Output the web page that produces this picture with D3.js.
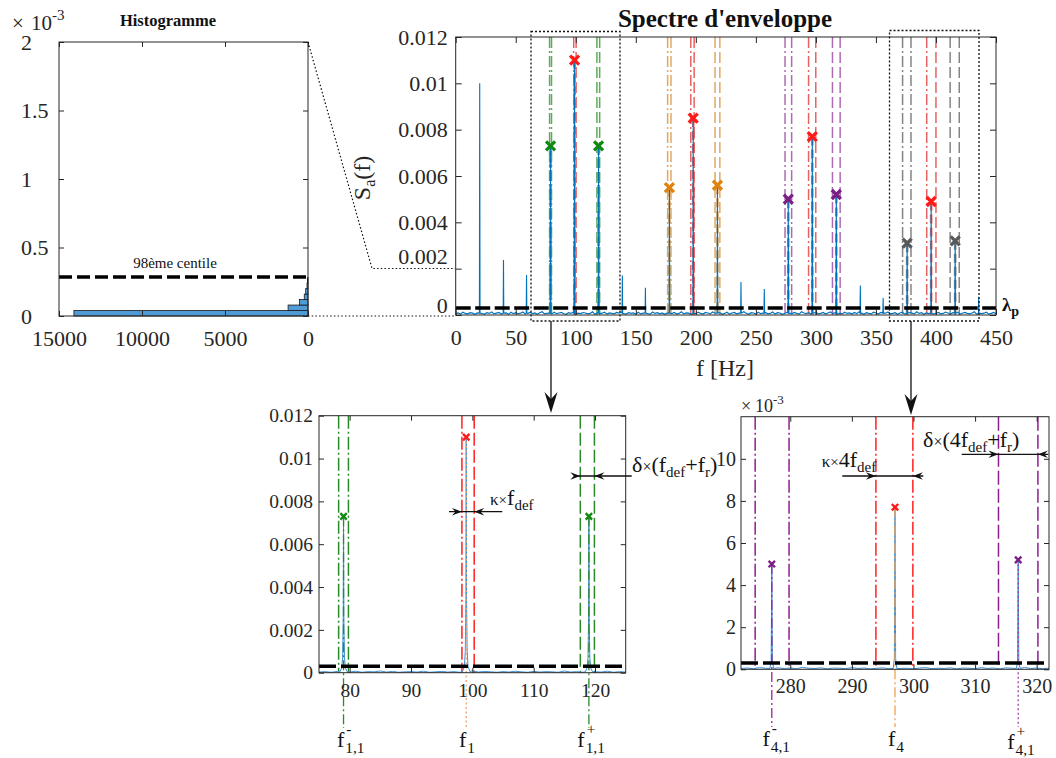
<!DOCTYPE html>
<html><head><meta charset="utf-8">
<script src="https://cdn.jsdelivr.net/npm/d3@7"></script>
<style>body{margin:0;background:#fff} svg text{font-family:"Liberation Serif","Times New Roman",serif !important;}</style>
</head><body><svg id="c" width="1056" height="758"></svg>
<script>
// ---------------- DATA ----------------
const histEdges = [0, 0.04, 0.08, 0.12, 0.16, 0.20, 0.24, 0.28];   // ×1e-3
const histCounts = [14100, 1200, 520, 225, 140, 60, 25];
const histYTicks = [0, 0.5, 1, 1.5, 2];
const histXTicks = [15000, 10000, 5000, 0];
const centile98 = 0.285;   // ×1e-3
const lambdaP = 0.0003;

const mainXTicks = [0, 50, 100, 150, 200, 250, 300, 350, 400, 450];
const ampTicks = [0, 0.002, 0.004, 0.006, 0.008, 0.010, 0.012];
const zoomLeftXTicks = [80, 90, 100, 110, 120];
const zoomRightXTicks = [280, 290, 300, 310, 320];
const zoomRightYTicks = [0, 0.002, 0.004, 0.006, 0.008, 0.010];

const peakFreqs = [20, 39.8, 59, 79, 99, 119, 138.8, 158, 178, 197.8, 218, 237.6, 257, 277, 297, 317, 337, 356, 376, 396, 416, 435.6];
const peakAmps  = [0.0100, 0.00237, 0.00173, 0.0073, 0.0110, 0.0073, 0.0017, 0.00118, 0.0055, 0.0085, 0.0056, 0.00142, 0.00112, 0.0050, 0.0077, 0.0052, 0.00127, 0.00073, 0.0031, 0.0049, 0.0032, 0.00079];

const markFreqs  = [79, 99, 119, 178, 197.8, 218, 277, 297, 317, 376, 396, 416];
const markAmps   = [0.0073, 0.0110, 0.0073, 0.0055, 0.0085, 0.0056, 0.0050, 0.0077, 0.0052, 0.0031, 0.0049, 0.0032];
const markGroups = ["g", "r", "g", "o", "r", "o", "p", "r", "p", "k", "r", "k"];
const markRoles  = ["-", "0", "+", "-", "0", "+", "-", "0", "+", "-", "0", "+"];
const winLo = [78.2, 98.3, 117.6, 176.5, 195.8, 216.0, 274.3, 293.9, 313.8, 372.2, 392.3, 411.8];
const winHi = [79.8, 100.3, 119.9, 179.3, 198.6, 220.0, 279.8, 299.9, 320.2, 379.2, 400.0, 419.4];

// baseline noise of the envelope spectrum (×1e-5), 0..450 Hz
const mainNoise = [6,9,4,12,7,5,10,8,3,9,11,6,4,10,7,13,5,8,11,4,7,9,3,12,6,10,5,8,13,4,7,11,6,9,3,10,14,5,7,8,4,12,6,9,11,5,3,10,7,13,4,8,6,11,9,5,7,14,3,10,6,8,12,4,9,7,5,11,8,13,6,4,10,7,9,3,12,5,8,11,6,4,13,7,10,5,9,3,8,12,6,11,4,7,14,5,9,8,3,10,6,12,7,4,11,9,5,13,8,6,10,3,7,12,4,9,11,5,8,6,14,7,3,10,9,4,12,6,8,11,5,7,13,4,10,9,3,6,12,8,5,11,7,4,14,9,6,10,3,8,12,5,7,11,4,9,13,6,10,3,8,5,12,7,9,4,11,6,14,8,3,10,7,5,12,9,4,11,6,8,13,5,7,10,3,9,12,4,6,11,8,5,14,7,10,3,9,6,12,4,8,11,5,7,13,9,3,10,6,12,4,8,11,7,5,9,14,3,10,6,8,12,4,7,11,5];
// zoom panel noise (×1e-5)
const leftNoise  = [3,5,2,6,4,3,7,2,5,4,8,3,6,2,4,5,3,7,2,4,6,3,5,2,4,9,3,6,4,2,5,3,7,4,2,6,3,5,4,2,8,3,5,2,6,4,3,7,2,5,3];
const rightNoise = [4,6,3,8,5,2,7,4,6,3,9,5,4,7,2,6,5,3,8,4,6,2,5,7,3,9,4,5,2,6,8,3,5,4,7,2,6,5,3,8,4,6,2,7,5,3,9,4,6,3,5];
// zoomed peak profiles [f, amplitude]
const leftPeaks = [
  [78.4,0.00004],[78.7,0.00022],[78.85,0.0007],[78.95,0.0025],[79.0,0.0073],[79.05,0.0025],[79.15,0.0007],[79.3,0.00022],[79.6,0.00004],
  [98.4,0.00005],[98.7,0.0003],[98.85,0.0010],[98.95,0.0035],[99.0,0.0110],[99.05,0.0035],[99.15,0.0010],[99.3,0.0003],[99.6,0.00005],
  [118.4,0.00004],[118.7,0.00022],[118.85,0.0007],[118.95,0.0025],[119.0,0.0073],[119.05,0.0025],[119.15,0.0007],[119.3,0.00022],[119.6,0.00004]];
const rightPeaks = [
  [276.7,0.00004],[276.9,0.0004],[277.0,0.0050],[277.1,0.0004],[277.3,0.00004],
  [296.7,0.00004],[296.9,0.0005],[297.0,0.00775],[297.1,0.0005],[297.3,0.00004],
  [316.7,0.00004],[316.9,0.0004],[317.0,0.0052],[317.1,0.0004],[317.3,0.00004]];

// ---------------- SETUP ----------------
const svg = d3.select("#c");
svg.append("rect").attr("width",1056).attr("height",758).attr("fill","#fff");
const FONT = '"Liberation Serif", "Times New Roman", serif';
const AX = "#262626";
const BLUE = "#0072BD";
const groupLine = {g:"#3f9e3f", r:"#e04848", o:"#d89a48", p:"#9e52a6", k:"#6e6e6e"};
const groupMark = {g:"#118a11", r:"#ff1a1a", o:"#e0820e", p:"#7a1f84", k:"#585858"};
const DASH = "11,4", DASHDOT = "11,3,2,3";
const fmt = d => d === 0 ? "0" : String(+d.toFixed(4));

function drawAxes(g, x, y, o){
  const xl = d3.min(x.range()), xr = d3.max(x.range());
  const yb = y.range()[0], yt = y.range()[1];
  const b = g.append("g").attr("transform",`translate(0,${yb})`).call(d3.axisBottom(x).tickValues(o.xt).tickFormat(o.xf).tickSizeInner(-o.tl).tickSizeOuter(0).tickPadding(o.xpad));
  const t = g.append("g").attr("transform",`translate(0,${yt})`).call(d3.axisTop(x).tickValues(o.xt).tickFormat("").tickSizeInner(-o.tl).tickSizeOuter(0));
  const l = g.append("g").attr("transform",`translate(${xl},0)`).call(d3.axisLeft(y).tickValues(o.yt).tickFormat(o.yf).tickSizeInner(-o.tl).tickSizeOuter(0).tickPadding(o.ypad));
  const r = g.append("g").attr("transform",`translate(${xr},0)`).call(d3.axisRight(y).tickValues(o.yt).tickFormat("").tickSizeInner(-o.tl).tickSizeOuter(0));
  [b,t,l,r].forEach(a=>{
    a.select(".domain").remove(); a.selectAll(".tick line").attr("stroke",AX);
    a.attr("font-size",o.fs).attr("font-family",null);
    a.selectAll("text").attr("fill",AX).style("font-family",FONT).style("font-size",o.fs+"px");
  });
  g.append("rect").attr("x",xl).attr("y",yt).attr("width",xr-xl).attr("height",yb-yt).attr("fill","none").attr("stroke",AX).attr("stroke-width",1);
  return {b,t,l,r};
}
function xMark(g, cx, cy, s, sw, col){
  g.append("path").attr("d",`M${cx-s},${cy-s}L${cx+s},${cy+s}M${cx-s},${cy+s}L${cx+s},${cy-s}`)
    .attr("stroke",col).attr("stroke-width",sw).attr("fill","none");
}
function head(g, tx, y, dir){ // small arrowhead, dir=+1 points right
  g.append("path").attr("d",`M${tx},${y}L${tx-dir*10},${y-3.8}L${tx-dir*6.5},${y}L${tx-dir*10},${y+3.8}Z`).attr("fill","#111");
}
function bigArrow(g, x, y0, y1){
  g.append("line").attr("x1",x).attr("x2",x).attr("y1",y0).attr("y2",y1-10).attr("stroke","#111").attr("stroke-width",1.3);
  g.append("path").attr("d",`M${x},${y1}L${x-6.5},${y1-21}L${x},${y1-14}L${x+6.5},${y1-21}Z`).attr("fill","#111");
}
function rich(g, x, y, parts){
  const t = g.append("text").attr("x",x).attr("y",y).attr("fill","#111");
  parts.forEach(p=>{ t.append("tspan").attr("font-size",p[1]).attr("dy",p[2]||0).text(p[0]); });
  return t;
}
function fLabel(g, x, y, sub, sup, fs){
  g.append("text").attr("x",x).attr("y",y).attr("font-size",fs).attr("fill","#111").text("f");
  const w = fs*0.38;
  if(sup) g.append("text").attr("x",x+w+1).attr("y",y-fs*0.6).attr("font-size",fs*0.7).attr("fill","#111").text(sup);
  g.append("text").attr("x",x+w).attr("y",y+fs*0.27).attr("font-size",fs*0.7).attr("fill","#111").text(sub);
}
function applyAttrs(sel, o){ Object.keys(o).forEach(k=>sel.attr(k,o[k])); return sel; }

// ---------------- HISTOGRAM ----------------
const xH = d3.scaleLinear().domain([15000,0]).range([59,308]);
const yH = d3.scaleLinear().domain([0,2]).range([316,42]);
const gH = svg.append("g");
gH.selectAll("rect.bar").data(histCounts).enter().append("rect").attr("class","bar")
  .attr("x",d=>xH(d)).attr("width",d=>xH(0)-xH(d))
  .attr("y",(d,i)=>yH(histEdges[i+1])).attr("height",(d,i)=>yH(histEdges[i])-yH(histEdges[i+1]))
  .attr("fill","#4f9bd6").attr("stroke","#1a1a1a").attr("stroke-width",0.8);
gH.append("line").attr("x1",xH(15000)).attr("x2",xH(0)).attr("y1",yH(centile98)).attr("y2",yH(centile98))
  .attr("stroke","#000").attr("stroke-width",3.5).attr("stroke-dasharray","13,5");
const aH = drawAxes(gH, xH, yH, {xt:histXTicks, yt:histYTicks, xf:d=>String(d), yf:d=>String(d), tl:5, xpad:14, ypad:8, fs:22});
aH.l.selectAll(".tick text").attr("text-anchor","start").attr("x",21-59);
gH.append("text").attr("x",175).attr("y",268).attr("text-anchor","middle").attr("font-size",15).attr("fill","#111").text("98ème centile");
gH.append("text").attr("x",168).attr("y",26).attr("text-anchor","middle").attr("font-size",16.5).attr("font-weight","bold").attr("fill","#111").text("Histogramme");
gH.append("text").attr("x",12).attr("y",30).attr("font-size",21).attr("fill",AX).text("×");
gH.append("text").attr("x",31).attr("y",30).attr("font-size",21).attr("fill",AX).text("10");
gH.append("text").attr("x",52).attr("y",20).attr("font-size",15).attr("fill",AX).text("-3");

// ---------------- MAIN SPECTRUM ----------------
const xM = d3.scaleLinear().domain([0,450]).range([455.7,996]);
const yM = d3.scaleLinear().domain([0,0.012]).range([315,37]);
const gM = svg.append("g");
const mTop = yM.range()[1], mBot = yM.range()[0];
markFreqs.forEach((f,i)=>{
  const col = groupLine[markGroups[i]], role = markRoles[i];
  const sLo = role==="+" ? DASH : DASHDOT, sHi = role==="-" ? DASHDOT : DASH;
  gM.append("line").attr("x1",xM(winLo[i])).attr("x2",xM(winLo[i])).attr("y1",mTop).attr("y2",mBot)
    .attr("stroke",col).attr("stroke-width",1.5).attr("stroke-opacity",0.85).attr("stroke-dasharray",sLo);
  gM.append("line").attr("x1",xM(winHi[i])).attr("x2",xM(winHi[i])).attr("y1",mTop).attr("y2",mBot)
    .attr("stroke",col).attr("stroke-width",1.5).attr("stroke-opacity",0.85).attr("stroke-dasharray",sHi);
  gM.append("line").attr("x1",xM(f)).attr("x2",xM(f)).attr("y1",yM(markAmps[i])).attr("y2",mBot)
    .attr("stroke",col).attr("stroke-width",2.6).attr("stroke-opacity",0.8).attr("stroke-dasharray","9,4");
});
const nStep = 450/(mainNoise.length-1);
let mainPts = mainNoise.map((v,i)=>[i*nStep, v*1e-5]).filter(p=>!peakFreqs.some(f=>Math.abs(p[0]-f)<0.6));
peakFreqs.forEach((f,i)=>{ mainPts.push([f-0.25, 0.00008]); mainPts.push([f, peakAmps[i]]); mainPts.push([f+0.25, 0.00008]); });
mainPts.sort((a,b)=>a[0]-b[0]);
gM.append("path").attr("d",d3.line().x(d=>xM(d[0])).y(d=>yM(d[1]))(mainPts))
  .attr("fill","none").attr("stroke",BLUE).attr("stroke-width",1.1);
gM.append("line").attr("x1",xM(0)).attr("x2",xM(450)).attr("y1",yM(lambdaP)).attr("y2",yM(lambdaP))
  .attr("stroke","#000").attr("stroke-width",3.5).attr("stroke-dasharray","15,4.5");
markFreqs.forEach((f,i)=>xMark(gM, xM(f), yM(markAmps[i]), 4.5, 3.3, groupMark[markGroups[i]]));
const aM = drawAxes(gM, xM, yM, {xt:mainXTicks, yt:ampTicks, xf:d=>String(d), yf:fmt, tl:6, xpad:14, ypad:8, fs:22});
aM.l.selectAll(".tick text").attr("transform", d => d===0 ? "translate(0,-10)" : (Math.abs(d-0.002)<1e-9 ? "translate(0,-12)" : null));
gM.append("text").attr("x",725).attr("y",27).attr("text-anchor","middle").attr("font-size",25).attr("font-weight","bold").attr("fill","#111").text("Spectre d'enveloppe");
gM.append("text").attr("x",725).attr("y",376).attr("text-anchor","middle").attr("font-size",24).attr("fill",AX).text("f [Hz]");
const yl = gM.append("text").attr("transform","translate(370,178) rotate(-90)").attr("text-anchor","middle").attr("fill",AX);
yl.append("tspan").attr("font-size",24).text("S");
yl.append("tspan").attr("font-size",16).attr("dy",5).text("a");
yl.append("tspan").attr("font-size",24).attr("dy",-5).text("(f)");
const lp = gM.append("text").attr("x",1002).attr("y",311).attr("font-weight","bold").attr("fill","#111");
lp.append("tspan").attr("font-size",19).text("λ");
lp.append("tspan").attr("font-size",14).attr("dy",5).text("p");
const dot = {stroke:"#111", "stroke-width":1.3, "stroke-dasharray":"2,2", fill:"none"};
applyAttrs(svg.append("rect").attr("x",531).attr("y",31.5).attr("width",89).attr("height",289.5), dot);
applyAttrs(svg.append("rect").attr("x",889.5).attr("y",30.5).attr("width",89.5).attr("height",290.5), dot);
applyAttrs(svg.append("path").attr("d","M308,42L372,268.5L455,268.5"), {stroke:"#111","stroke-width":1.2,"stroke-dasharray":"1.5,2.2",fill:"none"});
applyAttrs(svg.append("path").attr("d","M308,316L455,316"), {stroke:"#111","stroke-width":1.2,"stroke-dasharray":"1.5,2.2",fill:"none"});
bigArrow(svg, 551, 321, 413);
bigArrow(svg, 911, 321, 415);

// ---------------- ZOOM LEFT (f1) ----------------
const xL = d3.scaleLinear().domain([75,125]).range([319,625.7]);
const yL = d3.scaleLinear().domain([0,0.012]).range([672.7,415.7]);
const gL = svg.append("g");
const lCol = {g:"#2a8a2a", r:"#ff2020"};
[0,1,2].forEach(i=>{
  const c = lCol[markGroups[i]], role = markRoles[i];
  const sLo = role==="+" ? "13,4" : "13,3,2,3", sHi = role==="-" ? "13,3,2,3" : "13,4";
  gL.append("line").attr("x1",xL(winLo[i])).attr("x2",xL(winLo[i])).attr("y1",yL.range()[1]).attr("y2",yL.range()[0]).attr("stroke",c).attr("stroke-width",1.5).attr("stroke-dasharray",sLo);
  gL.append("line").attr("x1",xL(winHi[i])).attr("x2",xL(winHi[i])).attr("y1",yL.range()[1]).attr("y2",yL.range()[0]).attr("stroke",c).attr("stroke-width",1.5).attr("stroke-dasharray",sHi);
});
const lStep = 50/(leftNoise.length-1);
let lPts = leftNoise.map((v,i)=>[75+i*lStep, v*1e-5]).filter(p=>!leftPeaks.some(q=>Math.abs(p[0]-q[0])<0.35));
lPts = lPts.concat(leftPeaks).sort((a,b)=>a[0]-b[0]);
gL.append("path").attr("d",d3.line().x(d=>xL(d[0])).y(d=>yL(d[1]))(lPts)).attr("fill","none").attr("stroke","#3d8fd1").attr("stroke-width",1);
const lLab = [{c:"#2a8a2a", s:"10,3,2,3"},{c:"#f0a070", s:"2,2.5"},{c:"#2a8a2a", s:"10,3,2,3"}];
[0,1,2].forEach(i=>{
  gL.append("line").attr("x1",xL(markFreqs[i])).attr("x2",xL(markFreqs[i])).attr("y1",yL(markAmps[i])).attr("y2",728)
    .attr("stroke",lLab[i].c).attr("stroke-width",1.3).attr("stroke-dasharray",lLab[i].s);
});
gL.append("line").attr("x1",xL(75)).attr("x2",xL(125)).attr("y1",yL(lambdaP)).attr("y2",yL(lambdaP)).attr("stroke","#000").attr("stroke-width",3.5).attr("stroke-dasharray","17,5");
[0,1,2].forEach(i=>xMark(gL, xL(markFreqs[i]), yL(markAmps[i]), 3.2, 2.4, groupMark[markGroups[i]]));
drawAxes(gL, xL, yL, {xt:zoomLeftXTicks, yt:ampTicks, xf:d=>String(d), yf:fmt, tl:5, xpad:10, ypad:6, fs:19.5});
fLabel(gL, xL(79)-6.6, 747, "1,1", "-", 22);
fLabel(gL, xL(99)-7.3, 747, "1", null, 22);
fLabel(gL, xL(119)-11.6, 747, "1,1", "+", 22);
gL.append("line").attr("x1",449).attr("x2",502.3).attr("y1",511.7).attr("y2",511.7).attr("stroke","#111").attr("stroke-width",1.3);
head(gL, xL(winLo[1]), 511.7, 1); head(gL, xL(winHi[1]), 511.7, -1);
rich(gL, 490, 505, [["κ",17],["×",15],["f",22],["def",15,5]]);
gL.append("line").attr("x1",575).attr("x2",631.7).attr("y1",476).attr("y2",476).attr("stroke","#111").attr("stroke-width",1.3);
head(gL, xL(winLo[2]), 476, 1); head(gL, xL(winHi[2]), 476, -1);
rich(gL, 632, 472, [["δ",22],["×",16],["(f",22],["def",15,5],["+f",22,-5],["r",15,5],[")",22,-5]]);

// ---------------- ZOOM RIGHT (f4) ----------------
const xR = d3.scaleLinear().domain([272,322]).range([741,1049]);
const yR = d3.scaleLinear().domain([0,0.012]).range([669.3,416.7]);
const gR = svg.append("g");
const rCol = {p:"#8e1e8e", r:"#ff2020"};
[6,7,8].forEach(i=>{
  const c = rCol[markGroups[i]], role = markRoles[i];
  const st = role==="+" ? "14,4" : "13,3,2,3";
  [winLo[i], winHi[i]].forEach(w=>{
    gR.append("line").attr("x1",xR(w)).attr("x2",xR(w)).attr("y1",yR.range()[1]).attr("y2",yR.range()[0]).attr("stroke",c).attr("stroke-width",1.5).attr("stroke-dasharray",st);
  });
});
const rStep = 50/(rightNoise.length-1);
let rPts = rightNoise.map((v,i)=>[272+i*rStep, v*1e-5]).filter(p=>!rightPeaks.some(q=>Math.abs(p[0]-q[0])<0.35));
rPts = rPts.concat(rightPeaks).sort((a,b)=>a[0]-b[0]);
gR.append("path").attr("d",d3.line().x(d=>xR(d[0])).y(d=>yR(d[1]))(rPts)).attr("fill","none").attr("stroke","#3d8fd1").attr("stroke-width",1);
const rLab = [{c:"#a020a0", s:"10,3,2,3"},{c:"#f0a050", s:"10,3,2,3"},{c:"#a040a0", s:"2,2.5"}];
[6,7,8].forEach((i,k)=>{
  gR.append("line").attr("x1",xR(markFreqs[i])).attr("x2",xR(markFreqs[i])).attr("y1",yR(markAmps[i])).attr("y2",727)
    .attr("stroke",rLab[k].c).attr("stroke-width",1.3).attr("stroke-dasharray",rLab[k].s);
});
gR.append("line").attr("x1",xR(272)).attr("x2",xR(322)).attr("y1",yR(lambdaP)).attr("y2",yR(lambdaP)).attr("stroke","#000").attr("stroke-width",3.5).attr("stroke-dasharray","17,5");
[6,7,8].forEach(i=>xMark(gR, xR(markFreqs[i]), yR(markAmps[i]), 3.2, 2.4, groupMark[markGroups[i]]));
drawAxes(gR, xR, yR, {xt:zoomRightXTicks, yt:zoomRightYTicks, xf:d=>String(d), yf:d=>String(Math.round(d*1000)), tl:5, xpad:10, ypad:5, fs:20});
gR.append("text").attr("x",741).attr("y",412).attr("font-size",18).attr("fill",AX).text("×");
gR.append("text").attr("x",755).attr("y",412).attr("font-size",18).attr("fill",AX).text("10");
gR.append("text").attr("x",773).attr("y",404).attr("font-size",13).attr("fill",AX).text("-3");
fLabel(gR, xR(277)-9.4, 746, "4,1", "-", 22);
fLabel(gR, xR(297)-7, 746, "4", null, 22);
fLabel(gR, xR(317)-11, 749, "4,1", "+", 22);
gR.append("line").attr("x1",842.3).attr("x2",923.3).attr("y1",476).attr("y2",476).attr("stroke","#111").attr("stroke-width",1.3);
head(gR, xR(winLo[7]), 476, 1); head(gR, xR(winHi[7]), 476, -1);
rich(gR, 821.7, 467, [["κ",17],["×",15],["4f",22],["def",15,5]]);
gR.append("line").attr("x1",961.7).attr("x2",1048.3).attr("y1",454.3).attr("y2",454.3).attr("stroke","#111").attr("stroke-width",1.3);
head(gR, xR(winLo[8]), 454.3, 1); head(gR, xR(winHi[8]), 454.3, -1);
rich(gR, 923, 447, [["δ",22],["×",16],["(4f",22],["def",15,5],["+f",22,-5],["r",15,5],[")",22,-5]]);
</script></body></html>
